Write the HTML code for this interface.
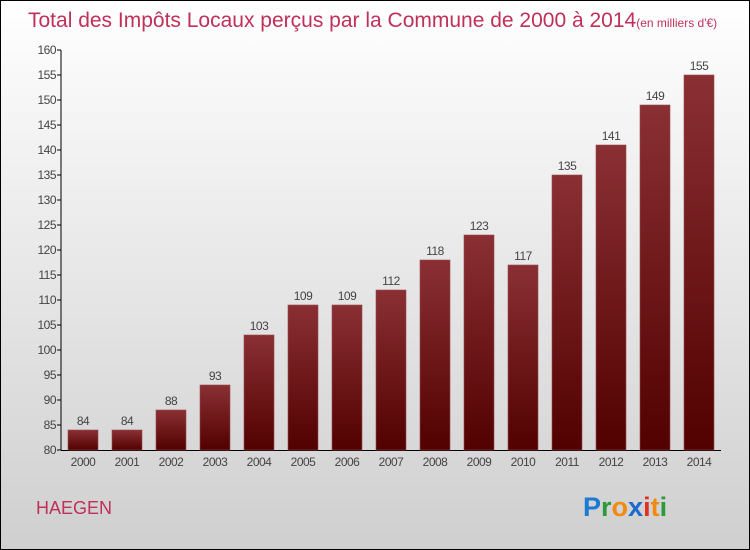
<!DOCTYPE html>
<html><head><meta charset="utf-8"><style>
body{margin:0;}
#c{width:750px;height:550px;position:relative;overflow:hidden;}
</style></head><body>
<div id="c">
<svg id="s" width="750" height="550" xmlns="http://www.w3.org/2000/svg">
<defs>
<linearGradient id="bg" x1="0" y1="0" x2="0" y2="1"><stop offset="0" stop-color="#ffffff"/><stop offset="1" stop-color="#cfcfcf"/></linearGradient>
<linearGradient id="bar" x1="0" y1="0" x2="0" y2="1"><stop offset="0" stop-color="#8a3034"/><stop offset="1" stop-color="#520000"/></linearGradient>
</defs>
<rect x="0.5" y="0.5" width="749" height="549" fill="url(#bg)" stroke="#000"/>
<text x="28" y="27" font-family="Liberation Sans, sans-serif" font-size="21" fill="#c0305a">Total des Impôts Locaux perçus par la Commune de 2000 à 2014<tspan font-size="12">(en milliers d'€)</tspan></text>
<g id="axes"></g>
<g id="bars"></g>
<text x="36" y="514" font-family="Liberation Sans, sans-serif" font-size="18" fill="#c0305a">HAEGEN</text>
<g font-family="Liberation Sans, sans-serif" font-size="27" font-weight="bold">
<text x="583" y="516"><tspan fill="#1a7ad4">P</tspan><tspan fill="#2a9a3a">r</tspan><tspan fill="#f08a10">o</tspan><tspan fill="#1a6ad0">x</tspan><tspan fill="#e03020">i</tspan><tspan fill="#f08a10">t</tspan><tspan fill="#2a9a3a">i</tspan></text>
</g>
</svg>
</div>
<script>
const years=["2000","2001","2002","2003","2004","2005","2006","2007","2008","2009","2010","2011","2012","2013","2014"];
const values=[84,84,88,93,103,109,109,112,118,123,117,135,141,149,155];
const yTicks=[80,85,90,95,100,105,110,115,120,125,130,135,140,145,150,155,160];
const NS="http://www.w3.org/2000/svg";
const yMin=80,yMax=160,y0=450,y1=50;
function ys(v){return y0-(v-yMin)/(yMax-yMin)*(y0-y1);}
function xs(i){return 83+i*44;}
function mk(t,a,p){const e=document.createElementNS(NS,t);for(const k in a)e.setAttribute(k,a[k]);p.appendChild(e);return e;}
const ax=document.getElementById('axes'),bg=document.getElementById('bars');
const yl=mk('line',{x1:61,y1:50,x2:61,y2:450,stroke:'#000'},ax);


const xl=mk('line',{x1:61,y1:450.5,x2:721,y2:450.5,stroke:'#000'},ax);


yTicks.forEach(v=>{
  const y=ys(v);
  mk('line',{x1:57,y1:y,x2:61,y2:y,stroke:'#000'},ax);
  const t=mk('text',{x:56,y:y+4,'text-anchor':'end','font-family':'Liberation Sans, sans-serif','font-size':12,fill:'#444','letter-spacing':'-0.5'},ax);
  t.textContent=v;
  
  
});
years.forEach((yr,i)=>{
  const cx=xs(i),v=values[i],top=ys(v);
  const r=mk('rect',{x:cx-15,y:top,width:30,height:y0-top,fill:'url(#bar)',stroke:'#9a4a4e','stroke-width':0.6},bg);
  
  
  const l=mk('text',{x:cx,y:top-5,'text-anchor':'middle','font-family':'Liberation Sans, sans-serif','font-size':12,fill:'#444','letter-spacing':'-0.5'},bg);
  l.textContent=v;
  
  
  const xt=mk('text',{x:cx,y:466,'text-anchor':'middle','font-family':'Liberation Sans, sans-serif','font-size':12,fill:'#444','letter-spacing':'-0.5'},ax);
  xt.textContent=yr;
  
  
});
</script>
</body></html>
